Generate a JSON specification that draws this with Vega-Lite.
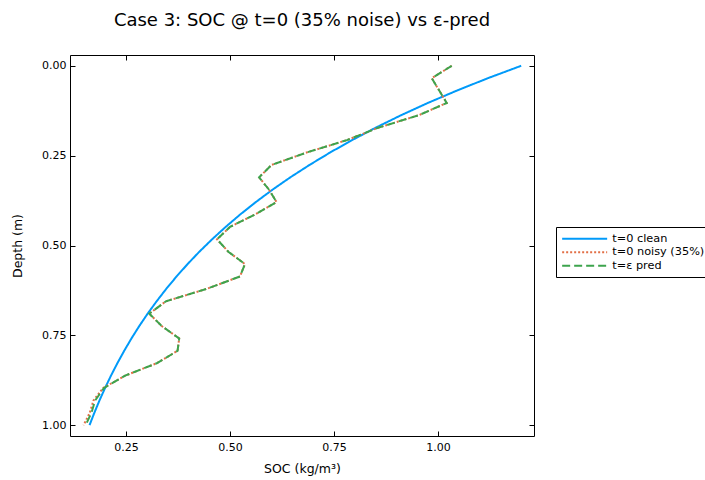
{
  "$schema": "https://vega.github.io/schema/vega-lite/v6.json",
  "width": 464,
  "height": 381,
  "autosize": {"type": "none"},
  "padding": {"left": 70, "top": 55, "right": 171, "bottom": 44},
  "background": "white",
  "title": {"text": "Case 3: SOC @ t=0 (35% noise) vs ε-pred", "fontSize": 18, "font": "DejaVu Sans", "fontWeight": "normal", "anchor": "middle", "offset": 25, "color": "black"},
  "config": {
    "view": {"stroke": "black", "strokeWidth": 1},
    "axis": {"labelFont": "DejaVu Sans", "titleFont": "DejaVu Sans", "labelFontSize": 11, "titleFontSize": 12.5, "titleFontWeight": "normal", "labelColor": "black", "titleColor": "black", "grid": false, "domain": false, "tickColor": "black", "tickSize": -5}
  },
  "data": {"values": [
    {"s": "t=0 clean", "d": 0, "v": 1.2},
    {"s": "t=0 clean", "d": 0.0345, "v": 1.12},
    {"s": "t=0 clean", "d": 0.069, "v": 1.0454},
    {"s": "t=0 clean", "d": 0.1034, "v": 0.9757},
    {"s": "t=0 clean", "d": 0.1379, "v": 0.9107},
    {"s": "t=0 clean", "d": 0.1724, "v": 0.85},
    {"s": "t=0 clean", "d": 0.2069, "v": 0.7934},
    {"s": "t=0 clean", "d": 0.2414, "v": 0.7405},
    {"s": "t=0 clean", "d": 0.2759, "v": 0.6912},
    {"s": "t=0 clean", "d": 0.3103, "v": 0.6451},
    {"s": "t=0 clean", "d": 0.3448, "v": 0.6021},
    {"s": "t=0 clean", "d": 0.3793, "v": 0.562},
    {"s": "t=0 clean", "d": 0.4138, "v": 0.5245},
    {"s": "t=0 clean", "d": 0.4483, "v": 0.4896},
    {"s": "t=0 clean", "d": 0.4828, "v": 0.457},
    {"s": "t=0 clean", "d": 0.5172, "v": 0.4265},
    {"s": "t=0 clean", "d": 0.5517, "v": 0.3981},
    {"s": "t=0 clean", "d": 0.5862, "v": 0.3716},
    {"s": "t=0 clean", "d": 0.6207, "v": 0.3468},
    {"s": "t=0 clean", "d": 0.6552, "v": 0.3237},
    {"s": "t=0 clean", "d": 0.6897, "v": 0.3021},
    {"s": "t=0 clean", "d": 0.7241, "v": 0.282},
    {"s": "t=0 clean", "d": 0.7586, "v": 0.2632},
    {"s": "t=0 clean", "d": 0.7931, "v": 0.2457},
    {"s": "t=0 clean", "d": 0.8276, "v": 0.2293},
    {"s": "t=0 clean", "d": 0.8621, "v": 0.214},
    {"s": "t=0 clean", "d": 0.8966, "v": 0.1997},
    {"s": "t=0 clean", "d": 0.931, "v": 0.1864},
    {"s": "t=0 clean", "d": 0.9655, "v": 0.174},
    {"s": "t=0 clean", "d": 1.0, "v": 0.1624},
    {"s": "t=0 noisy (35%)", "d": 0, "v": 1.033},
    {"s": "t=0 noisy (35%)", "d": 0.0345, "v": 0.985},
    {"s": "t=0 noisy (35%)", "d": 0.069, "v": 1.003},
    {"s": "t=0 noisy (35%)", "d": 0.1034, "v": 1.021},
    {"s": "t=0 noisy (35%)", "d": 0.1379, "v": 0.953},
    {"s": "t=0 noisy (35%)", "d": 0.1724, "v": 0.856},
    {"s": "t=0 noisy (35%)", "d": 0.2069, "v": 0.781},
    {"s": "t=0 noisy (35%)", "d": 0.2414, "v": 0.684},
    {"s": "t=0 noisy (35%)", "d": 0.2759, "v": 0.6},
    {"s": "t=0 noisy (35%)", "d": 0.3103, "v": 0.57},
    {"s": "t=0 noisy (35%)", "d": 0.3448, "v": 0.594},
    {"s": "t=0 noisy (35%)", "d": 0.3793, "v": 0.612},
    {"s": "t=0 noisy (35%)", "d": 0.4138, "v": 0.56},
    {"s": "t=0 noisy (35%)", "d": 0.4483, "v": 0.5},
    {"s": "t=0 noisy (35%)", "d": 0.4828, "v": 0.469},
    {"s": "t=0 noisy (35%)", "d": 0.5172, "v": 0.496},
    {"s": "t=0 noisy (35%)", "d": 0.5517, "v": 0.536},
    {"s": "t=0 noisy (35%)", "d": 0.5862, "v": 0.524},
    {"s": "t=0 noisy (35%)", "d": 0.6207, "v": 0.444},
    {"s": "t=0 noisy (35%)", "d": 0.6552, "v": 0.346},
    {"s": "t=0 noisy (35%)", "d": 0.6897, "v": 0.306},
    {"s": "t=0 noisy (35%)", "d": 0.7241, "v": 0.336},
    {"s": "t=0 noisy (35%)", "d": 0.7586, "v": 0.378},
    {"s": "t=0 noisy (35%)", "d": 0.7931, "v": 0.374},
    {"s": "t=0 noisy (35%)", "d": 0.8276, "v": 0.324},
    {"s": "t=0 noisy (35%)", "d": 0.8621, "v": 0.248},
    {"s": "t=0 noisy (35%)", "d": 0.8966, "v": 0.195},
    {"s": "t=0 noisy (35%)", "d": 0.931, "v": 0.172},
    {"s": "t=0 noisy (35%)", "d": 0.9655, "v": 0.163},
    {"s": "t=0 noisy (35%)", "d": 1.0, "v": 0.148},
    {"s": "t=ε pred", "d": 0, "v": 1.033},
    {"s": "t=ε pred", "d": 0.0345, "v": 0.985},
    {"s": "t=ε pred", "d": 0.069, "v": 1.003},
    {"s": "t=ε pred", "d": 0.1034, "v": 1.021},
    {"s": "t=ε pred", "d": 0.1379, "v": 0.953},
    {"s": "t=ε pred", "d": 0.1724, "v": 0.856},
    {"s": "t=ε pred", "d": 0.2069, "v": 0.781},
    {"s": "t=ε pred", "d": 0.2414, "v": 0.684},
    {"s": "t=ε pred", "d": 0.2759, "v": 0.6},
    {"s": "t=ε pred", "d": 0.3103, "v": 0.57},
    {"s": "t=ε pred", "d": 0.3448, "v": 0.594},
    {"s": "t=ε pred", "d": 0.3793, "v": 0.612},
    {"s": "t=ε pred", "d": 0.4138, "v": 0.56},
    {"s": "t=ε pred", "d": 0.4483, "v": 0.5},
    {"s": "t=ε pred", "d": 0.4828, "v": 0.469},
    {"s": "t=ε pred", "d": 0.5172, "v": 0.496},
    {"s": "t=ε pred", "d": 0.5517, "v": 0.536},
    {"s": "t=ε pred", "d": 0.5862, "v": 0.524},
    {"s": "t=ε pred", "d": 0.6207, "v": 0.444},
    {"s": "t=ε pred", "d": 0.6552, "v": 0.346},
    {"s": "t=ε pred", "d": 0.6897, "v": 0.306},
    {"s": "t=ε pred", "d": 0.7241, "v": 0.336},
    {"s": "t=ε pred", "d": 0.7586, "v": 0.378},
    {"s": "t=ε pred", "d": 0.7931, "v": 0.374},
    {"s": "t=ε pred", "d": 0.8276, "v": 0.324},
    {"s": "t=ε pred", "d": 0.8621, "v": 0.248},
    {"s": "t=ε pred", "d": 0.8966, "v": 0.197},
    {"s": "t=ε pred", "d": 0.931, "v": 0.176},
    {"s": "t=ε pred", "d": 0.9655, "v": 0.167},
    {"s": "t=ε pred", "d": 1.0, "v": 0.153}
  ]},
  "layer": [
    {
      "mark": {"type": "line", "strokeWidth": 2, "clip": true},
      "encoding": {
        "x": {"field": "v", "type": "quantitative", "scale": {"domain": [0.1155, 1.2308], "nice": false, "zero": false},
              "axis": {"orient": "bottom", "title": "SOC (kg/m³)", "values": [0.25, 0.5, 0.75, 1.0], "format": ".2f", "labelPadding": 10, "titlePadding": 10}},
        "y": {"field": "d", "type": "quantitative", "scale": {"domain": [-0.03, 1.03], "reverse": true, "nice": false, "zero": false},
              "axis": {"orient": "left", "title": "Depth (m)", "values": [0, 0.25, 0.5, 0.75, 1.0], "format": ".2f", "labelPadding": 9, "titlePadding": 17}},
        "order": {"field": "d", "type": "quantitative"},
        "color": {"field": "s", "type": "nominal",
                  "scale": {"domain": ["t=0 clean", "t=0 noisy (35%)", "t=ε pred"], "range": ["#009af9", "#e26f46", "#3da44d"]},
                  "legend": {"title": null, "orient": "none", "legendX": 486, "legendY": 172, "strokeColor": "black", "fillColor": "white", "padding": 6, "symbolType": "M-5,0H5", "symbolSize": 81, "symbolStrokeWidth": 2, "labelFont": "DejaVu Sans", "labelFontSize": 11.3, "labelColor": "black", "rowPadding": 1.5, "symbolOffset": 17, "labelOffset": 22}},
        "strokeDash": {"field": "s", "type": "nominal",
                  "scale": {"domain": ["t=0 clean", "t=0 noisy (35%)", "t=ε pred"], "range": [[1, 0], [2, 2], [8, 4]]},
                  "legend": {"title": null, "orient": "none", "legendX": 486, "legendY": 172, "strokeColor": "black", "fillColor": "white", "padding": 6, "symbolType": "M-5,0H5", "symbolSize": 81, "symbolStrokeWidth": 2, "labelFont": "DejaVu Sans", "labelFontSize": 11.3, "labelColor": "black", "rowPadding": 1.5, "symbolOffset": 17, "labelOffset": 22}}
      }
    },
    {
      "mark": {"type": "point", "opacity": 0},
      "encoding": {
        "x": {"field": "v", "type": "quantitative", "axis": {"orient": "top", "title": null, "labels": false, "values": [0.25, 0.5, 0.75, 1.0]}},
        "y": {"field": "d", "type": "quantitative", "axis": {"orient": "right", "title": null, "labels": false, "values": [0, 0.25, 0.5, 0.75, 1.0]}}
      }
    }
  ],
  "resolve": {"axis": {"x": "independent", "y": "independent"}}
}
